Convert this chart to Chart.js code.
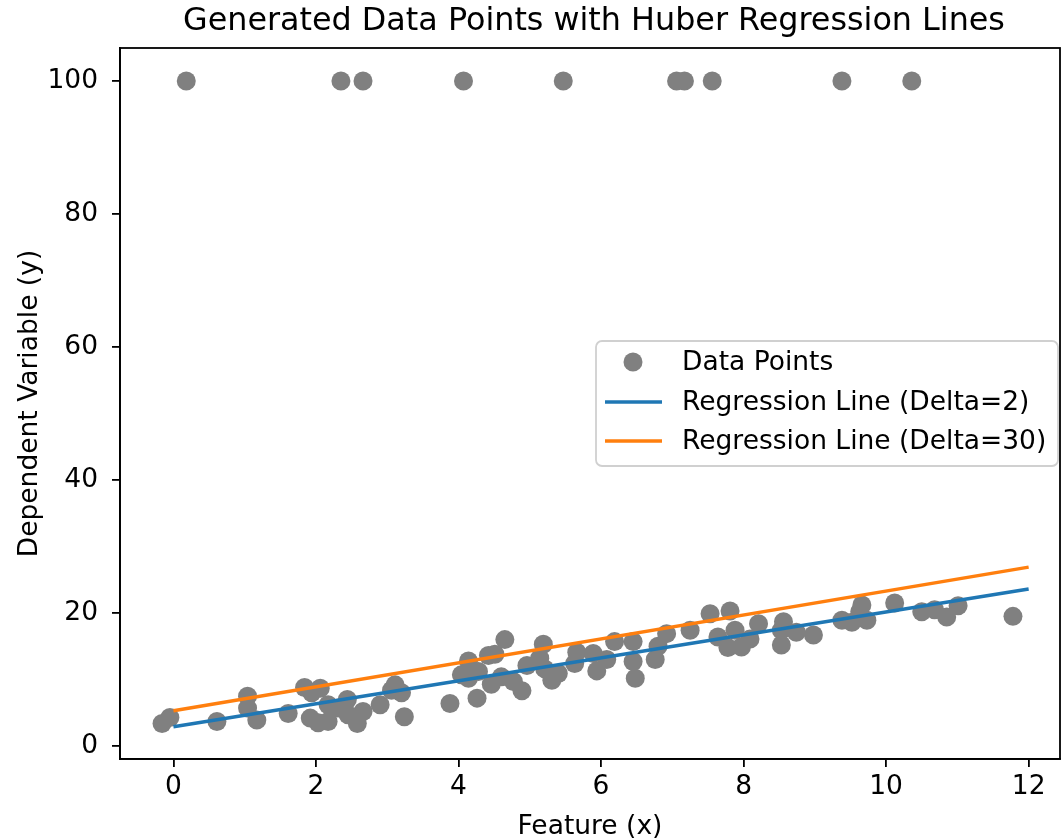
<!DOCTYPE html>
<html>
<head>
<meta charset="utf-8">
<title>Huber Regression</title>
<script src="https://cdn.jsdelivr.net/npm/chart.js@4.4.0/dist/chart.umd.min.js"></script>
<style>
  html, body { margin: 0; padding: 0; background: #fff; }
  #wrap { width: 1062px; height: 839px; }
</style>
</head>
<body>
<div id="wrap"><canvas id="chart" width="1062" height="839"></canvas></div>
<script>
// scatter data (last ten are the y=100 outliers)
const pointX = [-0.16, -0.05, 0.61, 1.04, 1.04, 1.17, 1.61, 1.84, 2.06, 1.94,
  1.92, 2.03, 2.17, 2.17, 2.31, 2.44, 2.45, 2.58, 2.66, 2.90,
  3.06, 3.11, 3.20, 3.24, 3.88, 4.04, 4.14, 4.14, 4.28, 4.26,
  4.42, 4.51, 4.46, 4.60, 4.65, 4.77, 4.89, 4.96, 5.19, 5.14,
  5.21, 5.31, 5.40, 5.66, 5.63, 5.89, 5.94, 6.08, 6.19, 6.45,
  6.45, 6.48, 6.76, 6.80, 6.92, 7.25, 7.53, 7.64, 7.78, 7.81,
  7.88, 7.97, 8.09, 8.21, 8.53, 8.56, 8.53, 8.74, 8.98, 9.38,
  9.52, 9.66, 9.63, 9.73, 10.12, 10.50, 10.68, 10.85, 11.01, 11.78,
  0.18, 2.35, 2.66, 4.07, 5.47, 7.06, 7.17, 7.56, 9.38, 10.36];
const pointY = [3.4, 4.3, 3.7, 7.5, 5.7, 3.9, 4.9, 8.8, 8.7, 8.0,
  4.2, 3.5, 3.7, 6.2, 5.7, 7.0, 4.7, 3.4, 5.2, 6.2,
  8.4, 9.2, 8.0, 4.4, 6.4, 10.7, 10.2, 12.8, 11.2, 7.2,
  13.6, 13.8, 9.3, 10.4, 16.0, 9.7, 8.3, 12.1, 15.3, 13.2,
  11.6, 9.9, 10.9, 14.1, 12.4, 13.9, 11.3, 13.0, 15.7, 15.7,
  12.7, 10.2, 13.0, 15.0, 16.9, 17.4, 19.9, 16.4, 14.8, 20.3,
  17.4, 14.9, 16.1, 18.4, 17.4, 18.7, 15.2, 17.1, 16.7, 18.9,
  18.6, 21.2, 20.2, 18.9, 21.5, 20.2, 20.5, 19.4, 21.1, 19.5,
  100, 100, 100, 100, 100, 100, 100, 100, 100, 100];

// regression line end points
const lineX = [0, 12];
const delta2Y = [2.9, 23.6];
const delta30Y = [5.3, 26.9];

const xTicks = [0, 2, 4, 6, 8, 10, 12];
const yTicks = [0, 20, 40, 60, 80, 100];

const TITLE = 'Generated Data Points with Huber Regression Lines';
const FONT = "'DejaVu Sans', 'Liberation Sans', sans-serif";
const TXT = 26.5;

function pairs(xs, ys) {
  return xs.map((x, i) => ({ x: x, y: ys[i] }));
}

// box around the plot (top and right spines) + title centred over the plot
const frame = {
  id: 'frame',
  afterDatasetsDraw(chart) {
    const a = chart.chartArea, ctx = chart.ctx;
    ctx.save();
    ctx.strokeStyle = '#000';
    ctx.lineWidth = 1.8;
    ctx.strokeRect(a.left, a.top, a.right - a.left, a.bottom - a.top);
    ctx.fillStyle = '#000';
    ctx.font = '31.8px ' + FONT;
    ctx.textAlign = 'center';
    ctx.textBaseline = 'middle';
    ctx.fillText(TITLE, (a.left + a.right) / 2 + 4, 22);
    ctx.restore();
  }
};

// legend inside the plot, right middle
const boxLegend = {
  id: 'boxLegend',
  afterDraw(chart) {
    const ctx = chart.ctx;
    const ds = chart.data.datasets;
    const x0 = 596, y0 = 341, w = 462, h = 125;
    ctx.save();
    ctx.beginPath();
    ctx.roundRect(x0, y0, w, h, 6);
    ctx.fillStyle = 'rgba(255,255,255,0.8)';
    ctx.fill();
    ctx.strokeStyle = '#d0d0d0';
    ctx.lineWidth = 1.8;
    ctx.stroke();
    const rows = [362, 402, 441];
    ctx.font = TXT + 'px ' + FONT;
    ctx.textBaseline = 'middle';
    ds.forEach((d, i) => {
      const y = rows[i];
      if (d.type === 'scatter') {
        ctx.beginPath();
        ctx.arc(633, y, 9.5, 0, Math.PI * 2);
        ctx.fillStyle = d.backgroundColor;
        ctx.fill();
      } else {
        ctx.beginPath();
        ctx.moveTo(605, y);
        ctx.lineTo(662, y);
        ctx.strokeStyle = d.borderColor;
        ctx.lineWidth = 3.5;
        ctx.stroke();
      }
      ctx.fillStyle = '#000';
      ctx.fillText(d.label, 682, y + 1);
    });
    ctx.restore();
  }
};

new Chart(document.getElementById('chart'), {
  type: 'scatter',
  data: {
    datasets: [
      {
        type: 'scatter',
        label: 'Data Points',
        data: pairs(pointX, pointY),
        backgroundColor: '#808080',
        borderColor: '#808080',
        borderWidth: 0,
        pointRadius: 9.5,
        order: 3
      },
      {
        type: 'line',
        label: 'Regression Line (Delta=2)',
        data: pairs(lineX, delta2Y),
        borderColor: '#1f77b4',
        borderWidth: 3.5,
        pointRadius: 0,
        fill: false,
        order: 2
      },
      {
        type: 'line',
        label: 'Regression Line (Delta=30)',
        data: pairs(lineX, delta30Y),
        borderColor: '#ff7f0e',
        borderWidth: 3.5,
        pointRadius: 0,
        fill: false,
        order: 1
      }
    ]
  },
  options: {
    responsive: false,
    animation: false,
    layout: { autoPadding: false, padding: { left: 14, right: 2, top: 48, bottom: 0 } },
    plugins: {
      legend: { display: false },
      tooltip: { enabled: false },
      title: { display: false }
    },
    scales: {
      x: {
        type: 'linear',
        min: -0.75,
        max: 12.44,
        afterBuildTicks: s => { s.ticks = xTicks.map(v => ({ value: v })); },
        afterFit: s => { s.height = 80; s.paddingLeft = 0; s.paddingRight = 0; },
        ticks: {
          color: '#000',
          font: { family: FONT, size: TXT },
          padding: 4,
          maxRotation: 0
        },
        grid: { drawOnChartArea: false, color: '#000', lineWidth: 1.8, tickLength: 8 },
        border: { display: true, color: '#000', width: 1.8 },
        title: {
          display: true,
          text: 'Feature (x)',
          color: '#000',
          font: { family: FONT, size: TXT },
          padding: { top: 0, bottom: -4 }
        }
      },
      y: {
        type: 'linear',
        min: -1.95,
        max: 104.96,
        afterBuildTicks: s => { s.ticks = yTicks.map(v => ({ value: v })); },
        afterFit: s => { s.width = 106; s.paddingTop = 0; s.paddingBottom = 0; },
        ticks: {
          color: '#000',
          font: { family: FONT, size: TXT },
          padding: 14
        },
        grid: { drawOnChartArea: false, color: '#000', lineWidth: 1.8, tickLength: 8 },
        border: { display: true, color: '#000', width: 1.8 },
        title: {
          display: true,
          text: 'Dependent Variable (y)',
          color: '#000',
          font: { family: FONT, size: TXT },
          padding: 0
        }
      }
    }
  },
  plugins: [frame, boxLegend]
});
</script>
</body>
</html>
